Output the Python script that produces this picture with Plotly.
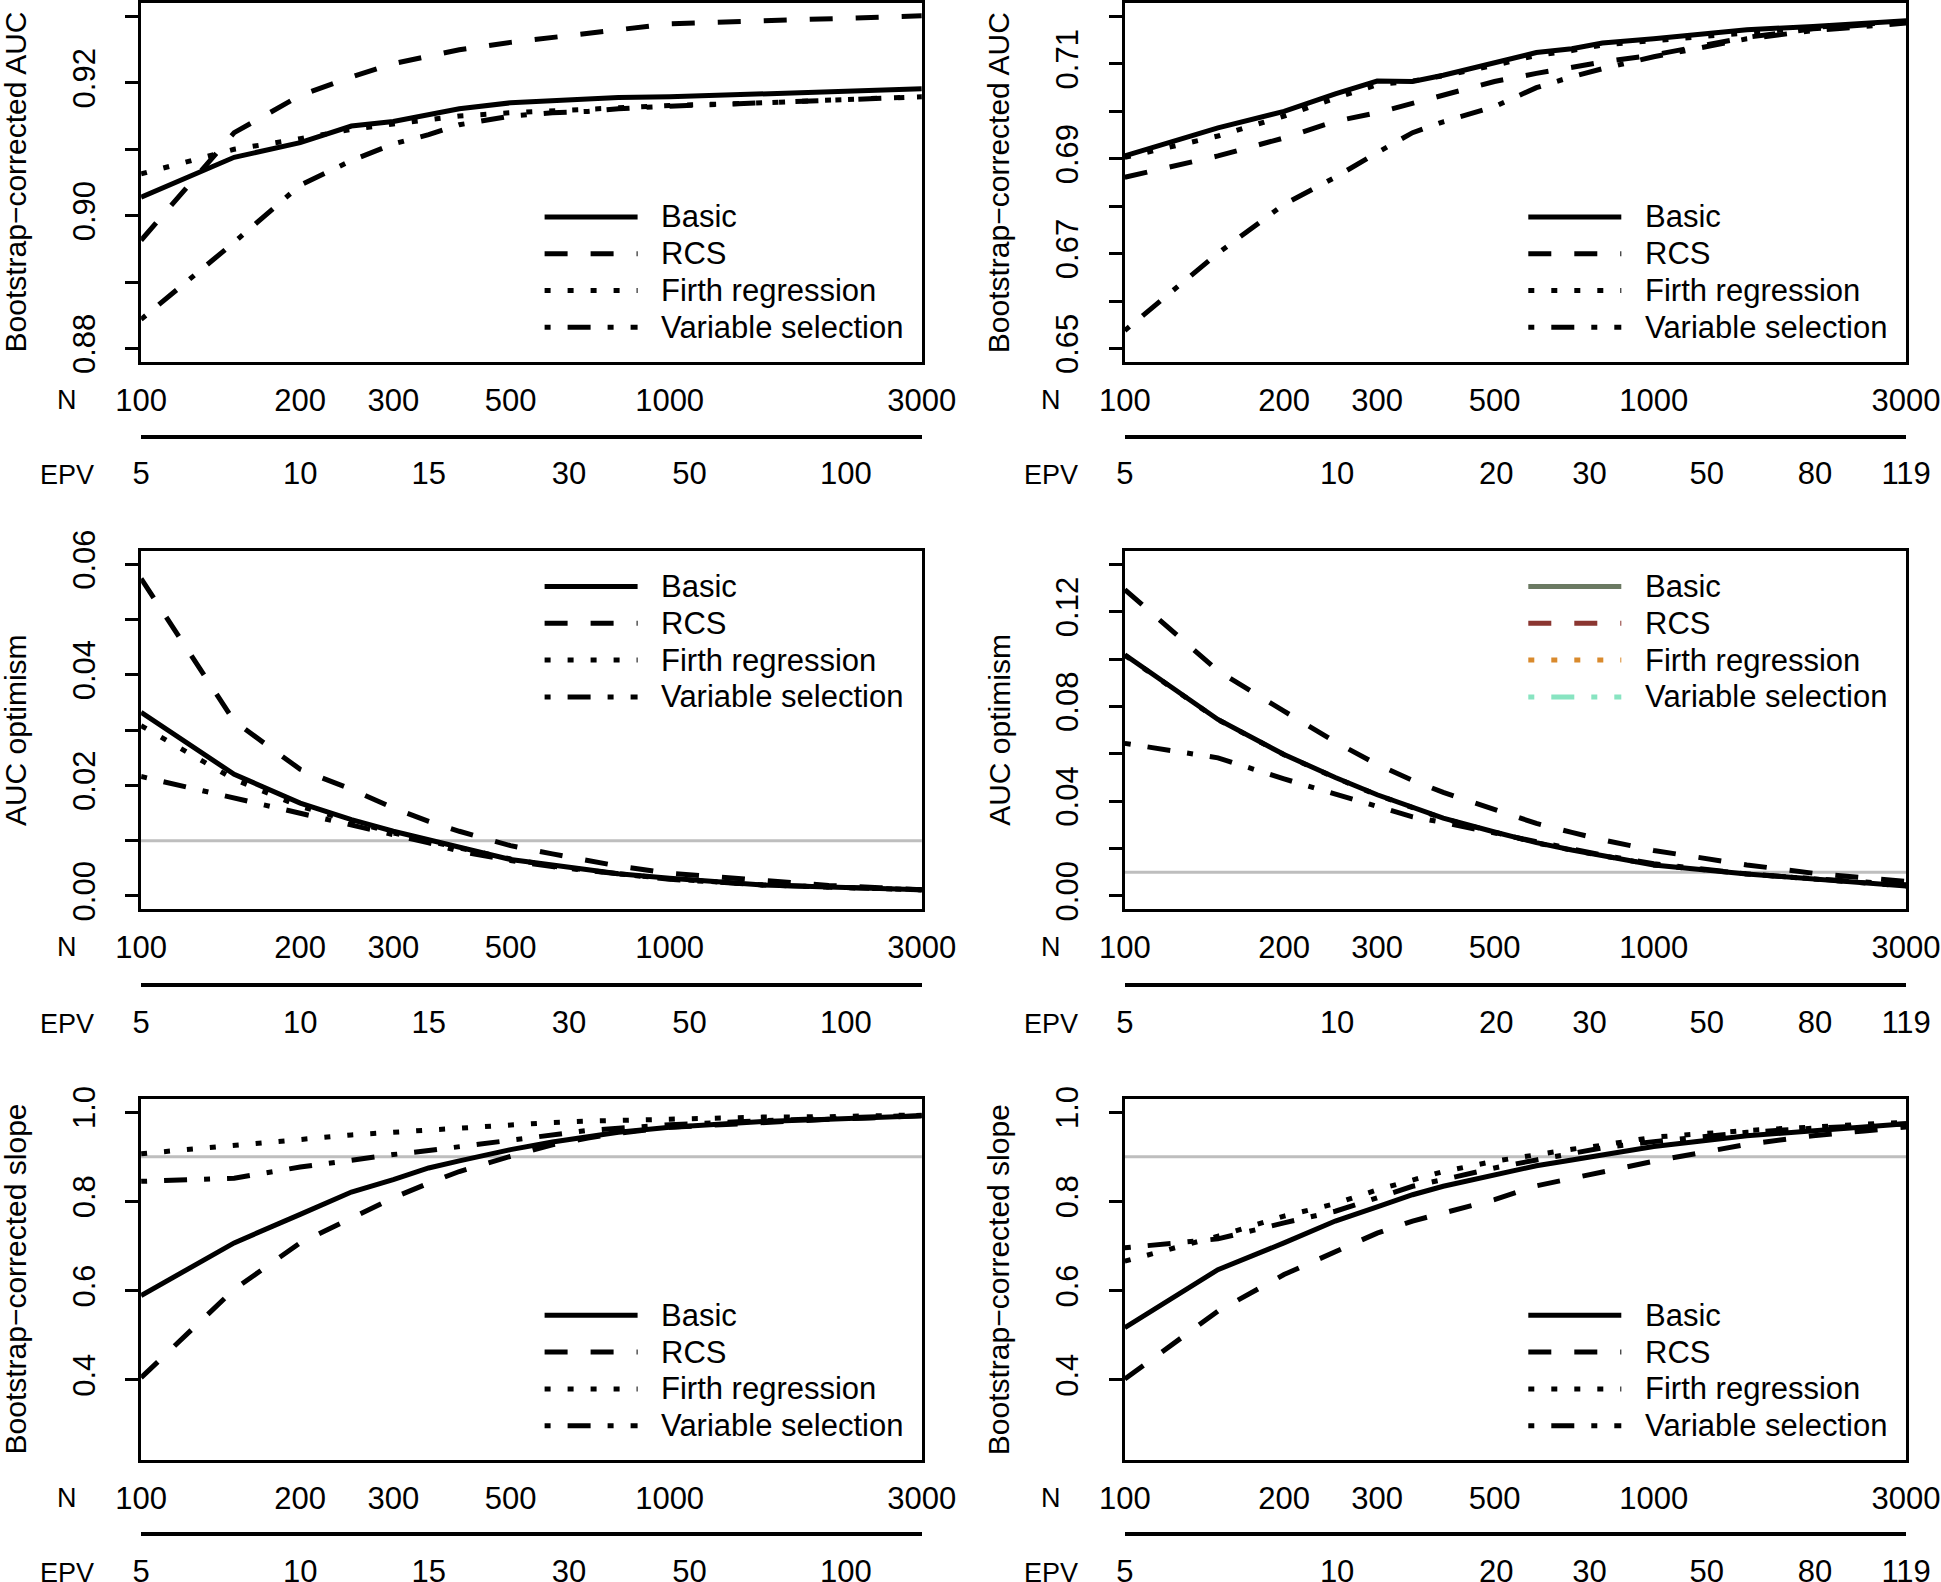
import math
import plotly.graph_objects as go

W, H = 1941, 1582
FONT = "Liberation Sans, Arial, Helvetica, sans-serif"

n_sizes = [100, 150, 200, 250, 300, 350, 400, 500, 600, 700, 800, 1000, 1500, 2000, 2500, 3000]
methods = ["Basic", "RCS", "Firth regression", "Variable selection"]

# row 1: bootstrap-corrected AUC
auc_a_basic = [0.9028, 0.9088, 0.9110, 0.9135, 0.9142, 0.9152, 0.9161, 0.9170, 0.9173, 0.9176, 0.9178, 0.9179, 0.9183, 0.9187, 0.9189, 0.9191]
auc_a_rcs = [0.8963, 0.9125, 0.9181, 0.9209, 0.9229, 0.9241, 0.9250, 0.9261, 0.9269, 0.9275, 0.9280, 0.9289, 0.9294, 0.9298, 0.9299, 0.9301]
auc_a_firth = [0.9063, 0.9100, 0.9116, 0.9130, 0.9138, 0.9145, 0.9150, 0.9155, 0.9158, 0.9161, 0.9163, 0.9166, 0.9170, 0.9175, 0.9177, 0.9179]
auc_a_varsel = [0.8844, 0.8960, 0.9046, 0.9083, 0.9108, 0.9122, 0.9137, 0.9150, 0.9155, 0.9157, 0.9161, 0.9165, 0.9170, 0.9173, 0.9176, 0.9179]

auc_b_basic = [0.6906, 0.6965, 0.7000, 0.7037, 0.7064, 0.7063, 0.7076, 0.7101, 0.7124, 0.7132, 0.7144, 0.7153, 0.7172, 0.7179, 0.7186, 0.7191]
auc_b_rcs = [0.6861, 0.6906, 0.6944, 0.6979, 0.6997, 0.7017, 0.7033, 0.7063, 0.7080, 0.7094, 0.7104, 0.7119, 0.7156, 0.7174, 0.7183, 0.7189]
auc_b_firth = [0.6903, 0.6948, 0.6990, 0.7028, 0.7056, 0.7064, 0.7075, 0.7097, 0.7118, 0.7128, 0.7140, 0.7149, 0.7168, 0.7177, 0.7184, 0.7189]
auc_b_varsel = [0.6538, 0.6701, 0.6804, 0.6861, 0.6913, 0.6955, 0.6978, 0.7010, 0.7050, 0.7073, 0.7090, 0.7115, 0.7153, 0.7170, 0.7179, 0.7186]

# row 2: AUC optimism
opt_a_basic = [0.0332, 0.0220, 0.0168, 0.0138, 0.0117, 0.0102, 0.0087, 0.0066, 0.0056, 0.0047, 0.0040, 0.0032, 0.0020, 0.0016, 0.0013, 0.0011]
opt_a_rcs = [0.0574, 0.0316, 0.0229, 0.0193, 0.0159, 0.0135, 0.0117, 0.0091, 0.0076, 0.0064, 0.0054, 0.0041, 0.0027, 0.0019, 0.0015, 0.0011]
opt_a_firth = [0.0308, 0.0211, 0.0162, 0.0135, 0.0114, 0.0099, 0.0087, 0.0067, 0.0054, 0.0046, 0.0040, 0.0031, 0.0020, 0.0016, 0.0013, 0.0011]
opt_a_varsel = [0.0216, 0.0177, 0.0150, 0.0129, 0.0111, 0.0096, 0.0081, 0.0064, 0.0053, 0.0045, 0.0040, 0.0030, 0.0020, 0.0016, 0.0013, 0.0011]

opt_b_basic = [0.1018, 0.0745, 0.0597, 0.0500, 0.0427, 0.0375, 0.0328, 0.0270, 0.0225, 0.0194, 0.0170, 0.0131, 0.0093, 0.0071, 0.0057, 0.0042]
opt_b_rcs = [0.1293, 0.0950, 0.0780, 0.0650, 0.0555, 0.0488, 0.0437, 0.0364, 0.0306, 0.0268, 0.0237, 0.0192, 0.0131, 0.0096, 0.0079, 0.0061]
opt_b_firth = [0.1016, 0.0744, 0.0596, 0.0499, 0.0426, 0.0374, 0.0327, 0.0269, 0.0224, 0.0193, 0.0169, 0.0131, 0.0093, 0.0071, 0.0057, 0.0042]
opt_b_varsel = [0.0644, 0.0583, 0.0494, 0.0431, 0.0382, 0.0334, 0.0310, 0.0265, 0.0233, 0.0200, 0.0172, 0.0136, 0.0093, 0.0073, 0.0059, 0.0047]

# row 3: bootstrap-corrected slope
slope_a_basic = [0.589, 0.707, 0.771, 0.821, 0.849, 0.875, 0.891, 0.916, 0.933, 0.946, 0.955, 0.966, 0.979, 0.984, 0.988, 0.992]
slope_a_rcs = [0.405, 0.603, 0.707, 0.763, 0.808, 0.841, 0.867, 0.901, 0.927, 0.942, 0.953, 0.966, 0.978, 0.984, 0.988, 0.992]
slope_a_firth = [0.907, 0.925, 0.940, 0.949, 0.955, 0.960, 0.964, 0.972, 0.977, 0.980, 0.982, 0.985, 0.989, 0.990, 0.993, 0.994]
slope_a_varsel = [0.845, 0.852, 0.877, 0.893, 0.905, 0.914, 0.923, 0.938, 0.949, 0.959, 0.964, 0.972, 0.981, 0.987, 0.990, 0.993]

slope_b_basic = [0.517, 0.647, 0.707, 0.756, 0.788, 0.815, 0.834, 0.860, 0.880, 0.893, 0.905, 0.923, 0.947, 0.959, 0.968, 0.974]
slope_b_rcs = [0.402, 0.554, 0.636, 0.688, 0.729, 0.756, 0.774, 0.804, 0.835, 0.852, 0.865, 0.890, 0.928, 0.947, 0.958, 0.967]
slope_b_firth = [0.666, 0.722, 0.767, 0.795, 0.826, 0.849, 0.867, 0.890, 0.906, 0.917, 0.926, 0.944, 0.959, 0.968, 0.973, 0.977]
slope_b_varsel = [0.696, 0.716, 0.752, 0.778, 0.808, 0.834, 0.849, 0.875, 0.893, 0.907, 0.920, 0.934, 0.955, 0.964, 0.969, 0.974]

# axis labelling
n_ticks = [100, 200, 300, 500, 1000, 3000]
epv_a_labels = ["5", "10", "15", "30", "50", "100"]
epv_a_at_n = [100, 200, 350, 645, 1090, 2155]
epv_b_labels = ["5", "10", "20", "30", "50", "80", "119"]
epv_b_at_n = [100, 252, 504, 756, 1260, 2017, 3000]

auc_a_ticks = [0.88, 0.89, 0.90, 0.91, 0.92, 0.93]
auc_a_text = ["0.88", "", "0.90", "", "0.92", ""]
auc_b_ticks = [0.65, 0.66, 0.67, 0.68, 0.69, 0.70, 0.71, 0.72]
auc_b_text = ["0.65", "", "0.67", "", "0.69", "", "0.71", ""]
opt_a_ticks = [0.00, 0.01, 0.02, 0.03, 0.04, 0.05, 0.06]
opt_a_text = ["0.00", "", "0.02", "", "0.04", "", "0.06"]
opt_b_ticks = [0.00, 0.02, 0.04, 0.06, 0.08, 0.10, 0.12, 0.14]
opt_b_text = ["0.00", "", "0.04", "", "0.08", "", "0.12", ""]
slope_ticks = [0.4, 0.6, 0.8, 1.0]
slope_text = ["0.4", "0.6", "0.8", "1.0"]

dashes = ["solid", "23px,23px", "6px,17px", "6px,17px,23px,17px"]
black4 = ["black"] * 4
odd_colors = ["#6b7a63", "#8b3631", "#d98a2d", "#88e4c1"]

# pixel geometry of the boxes
col_l = [139.6, 1123.3]
col_r = [923.3, 1907.6]
row_t = [1.7, 549.5, 1097.3]
row_b = [363.3, 910.7, 1461.7]
epv_y = [436.5, 985.0, 1534.0]

panels = [
    dict(row=0, col=0, s=[auc_a_basic, auc_a_rcs, auc_a_firth, auc_a_varsel], yr=[0.878, 0.932],
         tv=auc_a_ticks, tt=auc_a_text, title="Bootstrap\u2212corrected AUC", hl=None, leg="bottom", lc=black4),
    dict(row=0, col=1, s=[auc_b_basic, auc_b_rcs, auc_b_firth, auc_b_varsel], yr=[0.6472, 0.7228],
         tv=auc_b_ticks, tt=auc_b_text, title="Bootstrap\u2212corrected AUC", hl=None, leg="bottom", lc=black4),
    dict(row=1, col=0, s=[opt_a_basic, opt_a_rcs, opt_a_firth, opt_a_varsel], yr=[-0.0024, 0.0624],
         tv=opt_a_ticks, tt=opt_a_text, title="AUC optimism", hl=0.01, leg="top", lc=black4),
    dict(row=1, col=1, s=[opt_b_basic, opt_b_rcs, opt_b_firth, opt_b_varsel], yr=[-0.0056, 0.1456],
         tv=opt_b_ticks, tt=opt_b_text, title="AUC optimism", hl=0.01, leg="top", lc=odd_colors),
    dict(row=2, col=0, s=[slope_a_basic, slope_a_rcs, slope_a_firth, slope_a_varsel], yr=[0.22, 1.03],
         tv=slope_ticks, tt=slope_text, title="Bootstrap\u2212corrected slope", hl=0.9, leg="bottom", lc=black4),
    dict(row=2, col=1, s=[slope_b_basic, slope_b_rcs, slope_b_firth, slope_b_varsel], yr=[0.22, 1.03],
         tv=slope_ticks, tt=slope_text, title="Bootstrap\u2212corrected slope", hl=0.9, leg="bottom", lc=black4),
]


def aid(letter, k):
    return letter if k == 1 else f"{letter}{k}"


def akey(letter, k):
    return f"{letter}axis" if k == 1 else f"{letter}axis{k}"


fig = go.Figure()
layout = {}
shapes = []
annotations = []
LW = 3
FS = 31
xr = [2, math.log10(3000)]

for k, p in enumerate(panels, start=1):
    r, c = p["row"], p["col"]
    xid, yid = aid("x", k), aid("y", k)
    dx = [(col_l[c] + LW / 2) / W, (col_r[c] - LW / 2) / W]
    dy = [1 - (row_b[r] - LW / 2) / H, 1 - (row_t[r] + LW / 2) / H]

    layout[akey("x", k)] = dict(
        type="log", range=xr, domain=dx, anchor=yid, showline=True, mirror=True,
        linewidth=LW, linecolor="black", ticks="", tickvals=n_ticks,
        ticktext=[str(v) for v in n_ticks], tickfont=dict(size=FS),
        showgrid=False, zeroline=False, ticklabelstandoff=9)
    layout[akey("y", k)] = dict(
        range=p["yr"], domain=dy, anchor=xid, showline=True, mirror=True,
        linewidth=LW, linecolor="black", ticks="outside", ticklen=13, tickwidth=3,
        tickcolor="black", tickvals=p["tv"], ticktext=p["tt"], tickangle=-90,
        tickfont=dict(size=FS), showgrid=False, zeroline=False, ticklabelstandoff=18)

    # EPV axis drawn under the N axis
    e = k + 6
    epv_lab, epv_at = (epv_a_labels, epv_a_at_n) if c == 0 else (epv_b_labels, epv_b_at_n)
    layout[akey("x", e)] = dict(
        type="log", range=xr, domain=dx, overlaying=xid, anchor="free",
        position=1 - epv_y[r] / H, side="bottom", showline=True, linewidth=3.5,
        linecolor="black", ticks="", tickvals=epv_at, ticktext=epv_lab,
        tickfont=dict(size=FS), showgrid=False, zeroline=False, ticklabelstandoff=9)
    fig.add_trace(go.Scatter(x=[None], y=[None], xaxis=aid("x", e), yaxis=yid,
                             showlegend=False, hoverinfo="skip"))

    if p["hl"] is not None:
        shapes.append(dict(type="line", xref=f"{xid} domain", yref=yid, x0=0, x1=1,
                           y0=p["hl"], y1=p["hl"], layer="below",
                           line=dict(color="#bebebe", width=3)))

    for i, series in enumerate(p["s"]):
        fig.add_trace(go.Scatter(
            x=n_sizes, y=series, mode="lines", xaxis=xid, yaxis=yid,
            line=dict(color="black", width=5, dash=dashes[i]),
            name=methods[i], showlegend=False, hoverinfo="skip"))

    # legend drawn by hand, R style
    for i, m in enumerate(methods):
        if p["leg"] == "bottom":
            ypx = row_b[r] - 36 - (3 - i) * 36.8
        else:
            ypx = row_t[r] + 37 + i * 36.8
        shapes.append(dict(type="line", xref="paper", yref="paper",
                           x0=(col_l[c] + 405) / W, x1=(col_l[c] + 498) / W,
                           y0=1 - ypx / H, y1=1 - ypx / H,
                           line=dict(color=p["lc"][i], width=5, dash=dashes[i])))
        annotations.append(dict(text=m, x=(col_l[c] + 519.5) / W, y=1 - ypx / H,
                                xref="paper", yref="paper", xanchor="left",
                                yanchor="middle", showarrow=False, font=dict(size=FS)))

    annotations.append(dict(text=p["title"], x=(col_l[c] - 124.6) / W,
                            y=1 - (row_t[r] + row_b[r]) / 2 / H, xref="paper", yref="paper",
                            textangle=-90, xanchor="center", yanchor="middle",
                            showarrow=False, font=dict(size=30)))
    annotations.append(dict(text="N", x=(col_l[c] - 72.6) / W, y=1 - (row_b[r] + 36.7) / H,
                            xref="paper", yref="paper", xanchor="center", yanchor="middle",
                            showarrow=False, font=dict(size=27)))
    annotations.append(dict(text="EPV", x=(col_l[c] - 72.6) / W, y=1 - (epv_y[r] + 38.5) / H,
                            xref="paper", yref="paper", xanchor="center", yanchor="middle",
                            showarrow=False, font=dict(size=27)))

fig.update_layout(
    width=W, height=H, template="none", showlegend=False,
    margin=dict(l=0, r=0, t=0, b=0, autoexpand=False),
    paper_bgcolor="white", plot_bgcolor="white",
    font=dict(family=FONT, size=FS, color="black"),
    shapes=shapes, annotations=annotations, **layout)

# the page body keeps a default 8px margin; drop it so the figure fills the window
fig.write_html("out.html", config={"displayModeBar": False},
               post_script="document.body.style.margin='0px';document.body.style.overflow='hidden';")
